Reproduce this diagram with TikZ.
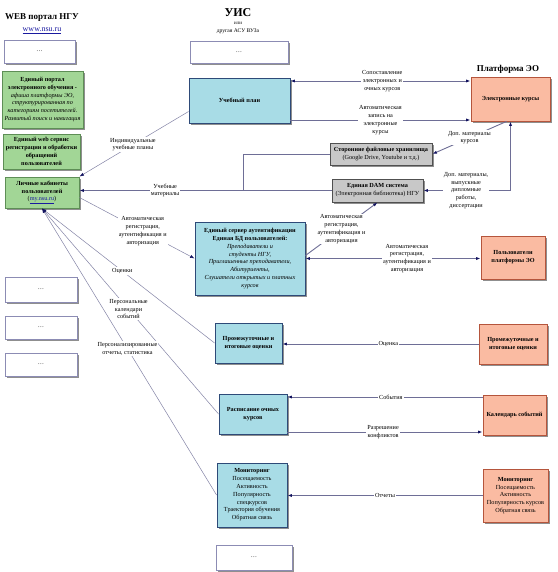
\documentclass[tikz,border=0pt]{standalone}
\usepackage{fontspec}
\setmainfont{Liberation Serif}
\usetikzlibrary{arrows.meta,shadows}
\definecolor{bluefill}{HTML}{A8DCE6}
\definecolor{blueline}{HTML}{2E4A78}
\definecolor{salfill}{HTML}{FABBA2}
\definecolor{salline}{HTML}{B5553C}
\definecolor{grnfill}{HTML}{A2D696}
\definecolor{grnline}{HTML}{5E8E56}
\definecolor{gryfill}{HTML}{C8C8C8}
\definecolor{gryline}{HTML}{505050}
\definecolor{wline}{HTML}{8C8CB4}
\definecolor{conn}{HTML}{6E6E96}
\definecolor{tipc}{HTML}{141460}
\definecolor{linkc}{HTML}{1A1AA0}
\begin{document}
\begin{tikzpicture}[x=1pt,y=-1pt,
  every node/.style={font=\fontsize{6.2}{7.8}\selectfont, inner sep=1pt},
  boxbase/.style={rectangle, draw, line width=0.9pt, align=center,
    drop shadow={shadow xshift=1.6pt, shadow yshift=-1.6pt, fill=black!55, opacity=0.8}},
  wbox/.style={boxbase, draw=wline, fill=white},
  bbox/.style={boxbase, draw=blueline, fill=bluefill},
  sbox/.style={boxbase, draw=salline, fill=salfill},
  gbox/.style={boxbase, draw=grnline, fill=grnfill},
  ybox/.style={boxbase, draw=gryline, fill=gryfill},
  conline/.style={draw=conn, line width=0.9pt},
  thinline/.style={draw=conn!85, line width=0.5pt},
  arrE/.style={-{Latex[length=4.5pt,width=3.2pt,color=tipc]}},
  arrS/.style={{Latex[length=4.5pt,width=3.2pt,color=tipc]}-},
  arrB/.style={{Latex[length=4.5pt,width=3.2pt,color=tipc]}-{Latex[length=4.5pt,width=3.2pt,color=tipc]}},
  lbl/.style={fill=white, align=center, inner sep=1pt},
  ttl/.style={font=\fontsize{9}{10}\selectfont\bfseries},
]
\fill[white] (0,0) rectangle (557,572);
\useasboundingbox (0,0) rectangle (557,572);

% titles
\node[ttl] (tweb) at (42,18) {WEB портал НГУ};
\node[text=linkc, font=\fontsize{8}{9}\selectfont] (turl) at (42,31) {\underline{www.nsu.ru}};
\node[font=\fontsize{12}{13}\selectfont\bfseries] (tuis) at (238,13) {УИС};
\node[font=\fontsize{5}{6}\selectfont] (tili) at (238,23) {или};
\node[font=\fontsize{5.6}{6.5}\selectfont] (tasu) at (238,31) {другая АСУ ВУЗа};
\node[ttl] (tplat) at (508,69) {Платформа ЭО};

% white boxes
\node[wbox, minimum width=71pt, minimum height=23pt] (w1) at (39.5,51.5) {…};
\node[wbox, minimum width=98pt, minimum height=22pt] (w2) at (239,52) {…};
\node[wbox, minimum width=72pt, minimum height=25pt] (w3) at (41,289.5) {…};
\node[wbox, minimum width=72pt, minimum height=23pt] (w4) at (41,327.5) {…};
\node[wbox, minimum width=72pt, minimum height=23pt] (w5) at (41,364.5) {…};
\node[wbox, minimum width=76pt, minimum height=25pt] (w6) at (254,557.5) {…};

% green boxes
\node[gbox, minimum width=81pt, minimum height=57pt] (g1) at (42.5,99.5)
  {\textbf{Единый портал}\\\textbf{электронного обучения -}\\\textit{афиша платформы ЭО,}\\\textit{структурированная по}\\\textit{категориям посетителей.}\\\textit{Развитый поиск и навигация}};
\node[gbox, minimum width=77pt, minimum height=35pt] (g2) at (41.5,151.5)
  {\textbf{Единый web сервис}\\\textbf{регистрации и обработки}\\\textbf{обращений}\\\textbf{пользователей}};
\node[gbox, minimum width=74pt, minimum height=31pt] (lk) at (42,192.5)
  {\textbf{Личные кабинеты}\\\textbf{пользователей}\\(\textcolor{linkc}{\underline{my.nsu.ru}})};

% blue boxes
\node[bbox, minimum width=101pt, minimum height=45pt] (plan) at (239.5,100.5) {\textbf{Учебный план}};
\node[bbox, minimum width=110pt, minimum height=73pt] (auth) at (250,258.5)
  {\textbf{Единый сервер аутентификации}\\\textbf{Единая БД пользователей:}\\\textit{Преподаватели и}\\\textit{студенты НГУ,}\\\textit{Приглашенные преподаватели,}\\\textit{Абитуриенты,}\\\textit{Слушатели открытых и платных}\\\textit{курсов}};
\node[bbox, minimum width=67pt, minimum height=40pt] (grades) at (248.5,343) {\textbf{Промежуточные и}\\\textbf{итоговые оценки}};
\node[bbox, minimum width=68pt, minimum height=40pt] (sched) at (253,414) {\textbf{Расписание очных}\\\textbf{курсов}};
\node[bbox, minimum width=70pt, minimum height=64pt] (mon) at (252,495)
  {\textbf{Мониторинг}\\Посещаемость\\Активность\\Популярность\\спецкурсов\\Траектория обучения\\Обратная связь};

% salmon boxes
\node[sbox, minimum width=79pt, minimum height=44pt] (ecourses) at (510.5,99) {\textbf{Электронные курсы}};
\node[sbox, minimum width=64pt, minimum height=43pt] (users) at (513,257.5) {\textbf{Пользователи}\\\textbf{платформы ЭО}};
\node[sbox, minimum width=68pt, minimum height=40pt] (sgrades) at (513,344) {\textbf{Промежуточные и}\\\textbf{итоговые оценки}};
\node[sbox, minimum width=63pt, minimum height=40pt] (cal) at (514.5,415) {\textbf{Календарь событий}};
\node[sbox, minimum width=65pt, minimum height=53pt] (smon) at (515.5,495.5)
  {\textbf{Мониторинг}\\Посещаемость\\Активность\\Популярность курсов\\Обратная связь};

% gray boxes
\node[ybox, minimum width=102pt, minimum height=22pt] (files) at (381,154)
  {\textbf{Сторонние файловые хранилища}\\(Google Drive, Youtube и т.д.)};
\node[ybox, minimum width=91pt, minimum height=23pt] (dam) at (377.5,190.5)
  {\textbf{Единая DAM система}\\(Электронная библиотека) НГУ};

% helper coordinates
\coordinate (yA) at (0,81);
\coordinate (yB) at (0,120);
\coordinate (yC) at (0,397);
\coordinate (yD) at (0,432);
\coordinate (jn) at (243,190.5);

% connectors
\draw[conline,arrB] (plan.east |- yA) -- node[lbl,pos=0.51]{Сопоставление\\электронных и\\очных курсов} (ecourses.west |- yA);
\draw[conline,arrE] (plan.east |- yB) -- node[lbl,pos=0.5]{Автоматическая\\запись на\\электронные\\курсы} (ecourses.west |- yB);
\draw[thinline,arrE] ([yshift=-11pt]plan.west) -- node[lbl,pos=0.51]{Индивидуальные\\учебные планы} (lk.north east);
\draw[conline] (files.west) -| (jn);
\draw[conline,arrE] (dam.west) -- node[lbl,pos=0.66]{Учебные\\материалы} (dam.west -| lk.east);
\draw[conline,arrE] ([xshift=-4pt]ecourses.south) -- node[lbl,pos=0.5]{Доп. материалы\\курсов} (files.east);
\draw[conline,arrB] (dam.east) -| node[lbl,pos=0.245]{Доп. материалы,\\выпускные\\дипломные\\работы,\\диссертации} (ecourses.south);
\draw[conline,arrE] ([yshift=3pt]auth.east) -- node[lbl,pos=0.5]{Автоматическая\\регистрация,\\аутентификация и\\авторизация} (dam.south);
\draw[conline,arrB] (auth.east) -- node[lbl,pos=0.58]{Автоматическая\\регистрация,\\аутентификация и\\авторизация} (auth.east -| users.west);
\draw[thinline,arrE] ([yshift=-5pt]lk.east) -- node[lbl,pos=0.55]{Автоматическая\\регистрация,\\аутентификация и\\авторизация} (auth.west);
\draw[thinline,arrS] (lk.south) -- node[lbl,pos=0.465]{Оценки} (grades.west);
\draw[thinline,arrS] (lk.south) -- node[lbl,pos=0.49]{Персональные\\календари\\событий} (sched.west);
\draw[thinline,arrS] (lk.south) -- node[lbl,pos=0.49]{Персонализированные\\отчеты, статистика} (mon.west);
\draw[conline,arrE] (sgrades.west) -- node[lbl,pos=0.46]{Оценка} (sgrades.west -| grades.east);
\draw[conline,arrE] (cal.west |- yC) -- node[lbl,pos=0.47]{События} (sched.east |- yC);
\draw[conline,arrE] (sched.east |- yD) -- node[lbl,pos=0.49]{Разрешение\\конфликтов} (cal.west |- yD);
\draw[conline,arrE] (smon.west) -- node[lbl,pos=0.5]{Отчеты} (smon.west -| mon.east);
\end{tikzpicture}
\end{document}
